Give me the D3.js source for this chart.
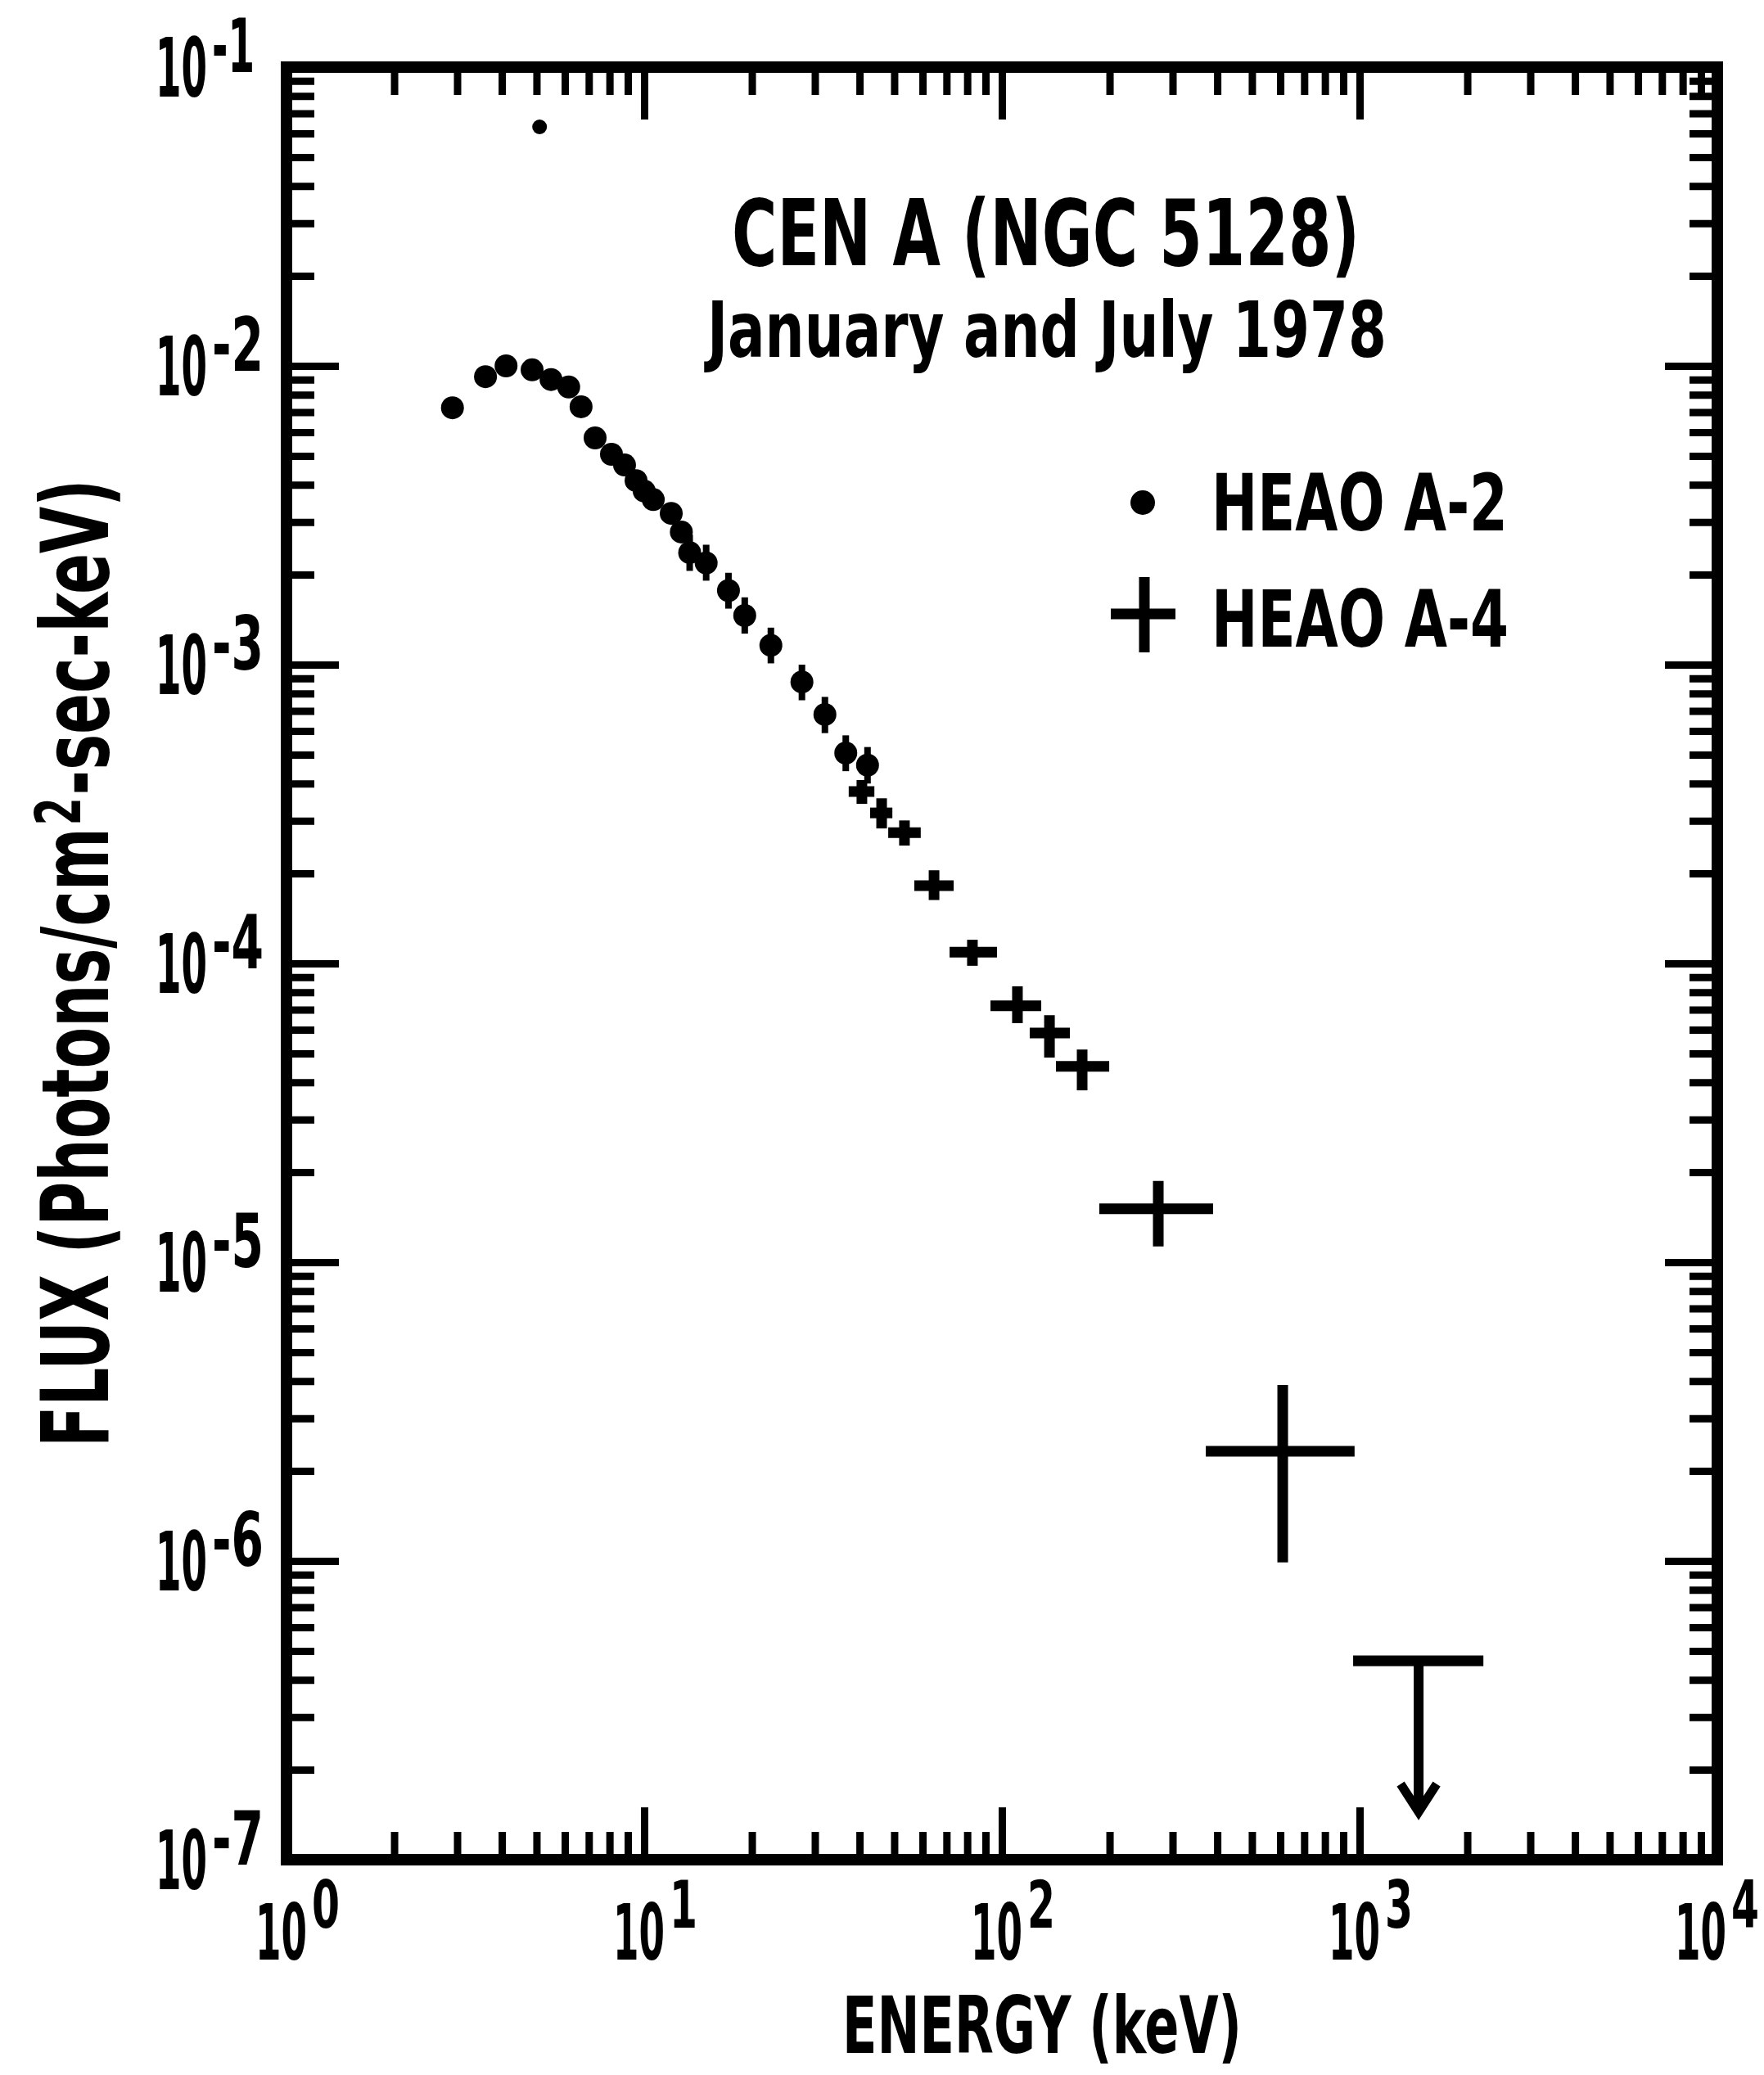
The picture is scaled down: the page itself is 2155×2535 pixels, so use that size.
<!DOCTYPE html>
<html>
<head>
<meta charset="utf-8">
<script src="https://cdn.jsdelivr.net/npm/d3@7"></script>
<style>
  html, body { margin: 0; padding: 0; background: #fff; }
  svg { display: block; }
</style>
</head>
<body>
<svg id="chart" width="2155" height="2535"></svg>
<script>
// ---- Data: Cen A (NGC 5128) X-ray spectrum, energy in keV, flux in photons/cm^2-sec-keV ----

// HEAO A-2 points
const a2Energy = [2.91, 3.60, 4.11, 4.86, 5.49, 6.15, 6.66, 7.29, 8.10, 8.81, 9.49, 10.0,
                  10.6, 11.9, 12.7, 13.4, 14.9, 17.2, 19.1, 22.6, 27.6, 32.0, 36.6, 42.1];
const a2Flux   = [7.24e-3, 9.2e-3, 1.0e-2, 9.7e-3, 9.0e-3, 8.5e-3, 7.3e-3, 5.74e-3, 5.06e-3, 4.66e-3,
                  4.13e-3, 3.81e-3, 3.57e-3, 3.21e-3, 2.78e-3, 2.37e-3, 2.19e-3, 1.77e-3, 1.46e-3,
                  1.16e-3, 8.75e-4, 6.81e-4, 5.06e-4, 4.61e-4];
// A-2 flux error extents (null where the bar is hidden by the dot)
const a2FluxLo = [null, null, null, null, null, null, null, null, null, null, null, null,
                  null, null, null, 2.06e-3, 1.91e-3, 1.54e-3, 1.27e-3, 1.01e-3, 7.6e-4, 5.9e-4, 4.4e-4, 4.0e-4];
const a2FluxHi = [null, null, null, null, null, null, null, null, null, null, null, null,
                  null, null, null, 2.72e-3, 2.52e-3, 2.03e-3, 1.68e-3, 1.33e-3, 1.0e-3, 7.8e-4, 5.8e-4, 5.3e-4];
// isolated A-2 point near the top of the frame
const a2OutlierEnergy = [5.10];
const a2OutlierFlux   = [6.31e-2];

// HEAO A-4 points with energy-bin and flux error extents
const a4Energy   = [40.6, 46.1, 53.4, 64.6, 82.7, 110.5, 135.8, 167.6, 273.6, 609.5];
const a4EnergyLo = [37.3, 42.8, 48.1, 56.9, 71.4, 92.9, 119.6, 141.6, 187.2, 371.5];
const a4EnergyHi = [44.0, 49.4, 59.3, 73.3, 96.9, 128.8, 154.9, 199.5, 389.4, 968];
const a4Flux     = [3.76e-4, 3.19e-4, 2.74e-4, 1.82e-4, 1.09e-4, 7.21e-5, 5.85e-5, 4.52e-5, 1.51e-5, 2.33e-6];
const a4FluxLo   = [3.42e-4, 2.83e-4, 2.48e-4, 1.63e-4, 9.82e-5, 6.31e-5, 4.84e-5, 3.76e-5, 1.13e-5, 9.89e-7];
const a4FluxHi   = [4.11e-4, 3.57e-4, 3.01e-4, 2.05e-4, 1.20e-4, 8.38e-5, 6.71e-5, 5.15e-5, 1.87e-5, 3.88e-6];

// HEAO A-4 upper limit in the highest band
const limitEnergy   = [1462];
const limitEnergyLo = [959];
const limitEnergyHi = [2218];
const limitFlux     = [4.63e-7];
const limitArrowTo  = [1.41e-7];

// Axis decades (exponents of ten)
const xTickExponents = [0, 1, 2, 3, 4];
const yTickExponents = [-1, -2, -3, -4, -5, -6, -7];

// Text
const titleText    = "CEN A (NGC 5128)";
const subtitleText = "January and July  1978";
const legendLabels = ["HEAO A-2", "HEAO A-4"];
const xAxisTitle   = "ENERGY (keV)";
const yAxisTitle   = ["FLUX (Photons/cm", "2", "-sec-keV)"];

// ---- Drawing ----
const svg = d3.select("#chart");
const INK = "#000";
const FONT = "'Liberation Sans Narrow', 'DejaVu Sans Condensed', 'Roboto Condensed', 'Liberation Sans', 'DejaVu Sans', sans-serif";

svg.append("rect").attr("width", 2155).attr("height", 2535).attr("fill", "#fff");

const x = d3.scaleLog().domain([1, 1e4]).range([350, 2098]);
const y = d3.scaleLog().domain([1e-7, 1e-1]).range([2272, 82]);

const [x0, x1] = x.range();
const [y0, y1] = y.range(); // y0 bottom, y1 top

// tick values: decades and 2..9 within each decade
function decades(domain) {
  const lo = Math.round(Math.log10(domain[0])), hi = Math.round(Math.log10(domain[1]));
  return d3.range(lo, hi + 1).map(e => Math.pow(10, e));
}
function minors(domain) {
  const out = [];
  const lo = Math.round(Math.log10(domain[0])), hi = Math.round(Math.log10(domain[1]));
  for (let e = lo; e < hi; e++) for (let k = 2; k <= 9; k++) out.push(k * Math.pow(10, e));
  return out;
}

const MAJOR = 64, MINOR = 34, TICK_W = 9;

function drawTicks(axisFactory, scale, values, len, translate) {
  const g = svg.append("g")
    .attr("transform", translate)
    .call(axisFactory(scale).tickValues(values).tickSize(-len).tickSizeOuter(0).tickFormat(""));
  g.select(".domain").remove();
  g.selectAll(".tick line").attr("stroke", INK).attr("stroke-width", TICK_W);
  g.selectAll(".tick text").remove();
}

const xMaj = decades(x.domain()), xMin = minors(x.domain());
const yMaj = decades(y.domain()), yMin = minors(y.domain());

// inward ticks on all four sides
drawTicks(d3.axisBottom, x, xMin, MINOR, `translate(0,${y0})`);
drawTicks(d3.axisBottom, x, xMaj, MAJOR, `translate(0,${y0})`);
drawTicks(d3.axisTop, x, xMin, MINOR, `translate(0,${y1})`);
drawTicks(d3.axisTop, x, xMaj, MAJOR, `translate(0,${y1})`);
drawTicks(d3.axisLeft, y, yMin, MINOR, `translate(${x0},0)`);
drawTicks(d3.axisLeft, y, yMaj, MAJOR, `translate(${x0},0)`);
drawTicks(d3.axisRight, y, yMin, MINOR, `translate(${x1},0)`);
drawTicks(d3.axisRight, y, yMaj, MAJOR, `translate(${x1},0)`);

// frame
svg.append("rect")
  .attr("x", x0).attr("y", y1).attr("width", x1 - x0).attr("height", y0 - y1)
  .attr("fill", "none").attr("stroke", INK).attr("stroke-width", 14);

// Condensed lettering: lay the text out at its natural width, then squeeze it
// horizontally so that it spans exactly `width` pixels from (x, y).
function fitText(parent, { x, y, width, size, rotate, build }) {
  const t = parent.append("text")
    .attr("font-family", FONT).attr("font-weight", "bold")
    .attr("fill", INK).attr("font-size", size);
  build(t);
  const natural = t.node().getComputedTextLength() || width;
  const s = width / natural;
  t.attr("transform",
    `translate(${x},${y})` + (rotate ? ` rotate(${rotate})` : "") + ` scale(${s},1)`);
  return t;
}
const plain = str => t => t.text(str);

// x tick labels: "10" with a raised exponent
const xLab = svg.append("g");
xTickExponents.forEach(e => {
  const X = x(Math.pow(10, e));
  const start = Math.min(X - 38, 2150 - 104);
  fitText(xLab, { x: start, y: 2394, width: 63, size: 95, build: plain("10") });
  fitText(xLab, { x: start + 69, y: 2355, width: 34, size: 80, build: plain(String(e)) });
});

// y tick labels: "10" with a raised negative exponent
const yLab = svg.append("g");
yTickExponents.forEach(e => {
  const Y = y(Math.pow(10, e));
  fitText(yLab, { x: 190, y: Y + 36, width: 63, size: 100, build: plain("10") });
  fitText(yLab, { x: 259, y: Y + 6, width: e === -1 ? 52 : 63, size: 90, build: plain("-" + String(-e)) });
});

// axis titles
fitText(svg, { x: 1029, y: 2508, width: 488, size: 96, build: plain(xAxisTitle) });
fitText(svg, {
  x: 132, y: 1768, width: 1177, size: 114, rotate: -90,
  build: t => {
    t.append("tspan").text(yAxisTitle[0]);
    t.append("tspan").attr("dx", 4).attr("dy", -34).attr("font-size", 76).text(yAxisTitle[1]);
    t.append("tspan").attr("dx", 4).attr("dy", 34).text(yAxisTitle[2]);
  }
});

// title block
fitText(svg, { x: 894, y: 324, width: 767, size: 113, build: plain(titleText) });
fitText(svg, { x: 864, y: 436, width: 830, size: 95, build: plain(subtitleText) });

// legend
svg.append("circle").attr("cx", 1396).attr("cy", 614).attr("r", 15).attr("fill", INK);
svg.append("line").attr("x1", 1357).attr("x2", 1436).attr("y1", 750).attr("y2", 750)
  .attr("stroke", INK).attr("stroke-width", 13);
svg.append("line").attr("x1", 1398).attr("x2", 1398).attr("y1", 705).attr("y2", 797)
  .attr("stroke", INK).attr("stroke-width", 13);
fitText(svg, { x: 1480, y: 648, width: 362, size: 96, build: plain(legendLabels[0]) });
fitText(svg, { x: 1480, y: 790, width: 363, size: 96, build: plain(legendLabels[1]) });

// HEAO A-2 dots with their flux error bars
const a2 = a2Energy.map((e, i) => ({ e, f: a2Flux[i], fLo: a2FluxLo[i], fHi: a2FluxHi[i] }));
svg.append("g").attr("stroke", INK).attr("stroke-width", 8)
  .selectAll("line").data(a2.filter(d => d.fLo !== null)).join("line")
  .attr("x1", d => x(d.e)).attr("x2", d => x(d.e))
  .attr("y1", d => y(d.fLo)).attr("y2", d => y(d.fHi));
svg.append("g").selectAll("circle").data(a2).join("circle")
  .attr("cx", d => x(d.e)).attr("cy", d => y(d.f)).attr("r", 14).attr("fill", INK);
const a2o = a2OutlierEnergy.map((e, i) => ({ e, f: a2OutlierFlux[i] }));
svg.append("g").selectAll("circle").data(a2o).join("circle")
  .attr("cx", d => x(d.e)).attr("cy", d => y(d.f)).attr("r", 9).attr("fill", INK);

// HEAO A-4 crosses (error bars)
const a4 = a4Energy.map((e, i) => ({
  e, f: a4Flux[i], eLo: a4EnergyLo[i], eHi: a4EnergyHi[i], fLo: a4FluxLo[i], fHi: a4FluxHi[i]
}));
const a4g = svg.append("g").attr("stroke", INK).attr("stroke-width", 13);
a4g.selectAll("line.h").data(a4).join("line").attr("class", "h")
  .attr("x1", d => x(d.eLo)).attr("x2", d => x(d.eHi))
  .attr("y1", d => y(d.f)).attr("y2", d => y(d.f));
a4g.selectAll("line.v").data(a4).join("line").attr("class", "v")
  .attr("x1", d => x(d.e)).attr("x2", d => x(d.e))
  .attr("y1", d => y(d.fLo)).attr("y2", d => y(d.fHi));

// upper limit with downward arrow
const ul = limitEnergy.map((e, i) => ({
  e, eLo: limitEnergyLo[i], eHi: limitEnergyHi[i], f: limitFlux[i], to: limitArrowTo[i]
}));
const ulg = svg.append("g").attr("stroke", INK).attr("fill", "none");
ulg.selectAll("line.h").data(ul).join("line").attr("class", "h").attr("stroke-width", 13)
  .attr("x1", d => x(d.eLo)).attr("x2", d => x(d.eHi))
  .attr("y1", d => y(d.f)).attr("y2", d => y(d.f));
ulg.selectAll("line.v").data(ul).join("line").attr("class", "v").attr("stroke-width", 12)
  .attr("x1", d => x(d.e)).attr("x2", d => x(d.e))
  .attr("y1", d => y(d.f)).attr("y2", d => y(d.to) - 4);
ulg.selectAll("path.head").data(ul).join("path").attr("class", "head").attr("stroke-width", 11)
  .attr("stroke-linejoin", "miter")
  .attr("d", d => {
    const X = x(d.e), T = y(d.to);
    return `M${X - 22},${T - 38} L${X},${T - 4} L${X + 22},${T - 38}`;
  });
</script>
</body>
</html>
